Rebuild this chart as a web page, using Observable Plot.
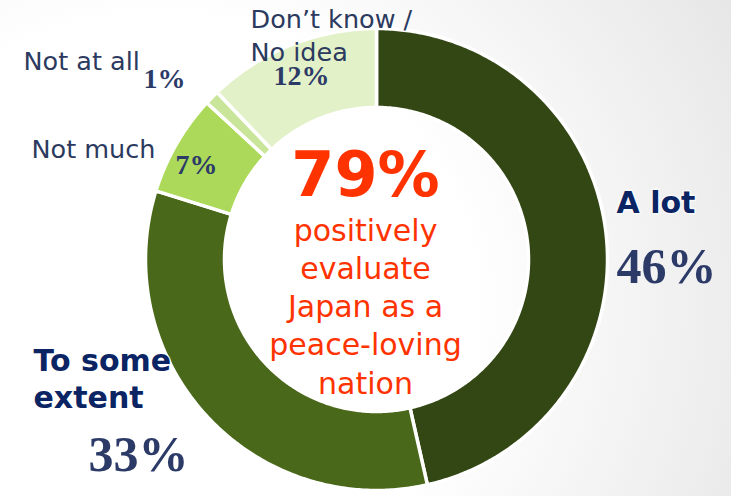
<!DOCTYPE html>
<html><head><meta charset="utf-8">
<script src="https://cdn.jsdelivr.net/npm/d3@7"></script>
<script src="https://cdn.jsdelivr.net/npm/@observablehq/plot@0.6"></script>
<style>
html,body{margin:0;padding:0;width:731px;height:496px;overflow:hidden;}
body{background: radial-gradient(ellipse 95% 130% at 22% 62%, #ffffff 45%, #e4e4e4 100%);}
#chart svg{display:block;background:transparent;}
</style></head><body><div id="chart"></div>
<script>
// ---- data ----
const categories = ["A lot", "To some extent", "Not much", "Not at all", "Don’t know / No idea"];
const values = [46, 33, 7, 1, 12];
const colors = ["#334714", "#4a6819", "#acd95a", "#c9e59a", "#e3f1c9"];
const percentLabels = ["46%", "33%", "7%", "1%", "12%"];
const headline = "79%";
const headlineText = "positively\nevaluate\nJapan as a\npeace-loving\nnation";

// ---- layout ----
const W = 731, H = 496, CX = 376, CY = 259, R = 231, INNER = 152 / 231;
const X = px => (px - CX) / R;
const Y = py => (CY - py) / R;

// ---- donut geometry from the values ----
const arcs = d3.pie().sort(null).value(d => d)(values);
const points = [];
arcs.forEach((a, i) => {
  const n = Math.max(6, Math.ceil((a.endAngle - a.startAngle) / 0.01));
  for (let k = 0; k <= n; k++) {
    const t = a.startAngle + (a.endAngle - a.startAngle) * k / n;
    points.push({cat: categories[i], x: Math.sin(t), y: Math.cos(t)});
  }
  for (let k = n; k >= 0; k--) {
    const t = a.startAngle + (a.endAngle - a.startAngle) * k / n;
    points.push({cat: categories[i], x: INNER * Math.sin(t), y: INNER * Math.cos(t)});
  }
});

// label placement (pixel anchors -> chart units)
const catLabelPos = [
  {text: "A lot", px: 616, py: 212, bold: true, size: 30},
  {text: "To some\nextent", px: 33, py: 407, bold: true, size: 30, lh: 1.233},
  {text: "Not much", px: 31, py: 157, bold: false, size: 25.5},
  {text: "Not at all", px: 23, py: 69, bold: false, size: 25.5},
  {text: "Don’t know /\nNo idea", px: 250, py: 60, bold: false, size: 25.5, lh: 1.27}
];
const pctPos = [
  {px: 616, py: 282, size: 50},
  {px: 88, py: 470, size: 50},
  {px: 175, py: 173, size: 28},
  {px: 143, py: 87, size: 28},
  {px: 273, py: 84, size: 28}
];

const marks = [
  Plot.line(points, {x: "x", y: "y", z: "cat", fill: "cat", stroke: "white", strokeWidth: 3.5, curve: "linear-closed"})
];
catLabelPos.forEach((d, i) => {
  marks.push(Plot.text([d], {
    x: v => X(v.px), y: v => Y(v.py), text: "text",
    textAnchor: "start", lineAnchor: "bottom", lineHeight: d.lh || 1,
    fontFamily: "'DejaVu Sans', Verdana, sans-serif", fontSize: d.size,
    fontWeight: d.bold ? "bold" : "normal",
    fill: d.bold ? "#0b2463" : "#2b3a5e",
    stroke: d.bold ? "white" : "none", strokeWidth: 3, strokeOpacity: 0.6
  }));
});
pctPos.forEach((d, i) => {
  marks.push(Plot.text([percentLabels[i]], {
    x: () => X(d.px), y: () => Y(d.py), text: v => v,
    textAnchor: "start", lineAnchor: "bottom",
    fontFamily: "'Liberation Serif', 'Times New Roman', serif", fontSize: d.size,
    fontWeight: "bold", fill: "#2b3a67"
  }));
});
marks.push(Plot.text([headline], {
  x: () => X(365), y: () => Y(195), text: v => v,
  textAnchor: "middle", lineAnchor: "bottom",
  fontFamily: "'DejaVu Sans', Verdana, sans-serif", fontSize: 62, fontWeight: "bold", fill: "#ff3300"
}));
marks.push(Plot.text([headlineText], {
  x: () => X(365), y: () => Y(393), text: v => v,
  textAnchor: "middle", lineAnchor: "bottom", lineHeight: 1.275,
  fontFamily: "'DejaVu Sans', Verdana, sans-serif", fontSize: 30, fill: "#ff3300"
}));

const chart = Plot.plot({
  width: W, height: H, margin: 0,
  x: {domain: [X(0), X(W)], axis: null},
  y: {domain: [Y(H), Y(0)], axis: null},
  color: {domain: categories, range: colors},
  style: {background: "transparent", overflow: "visible"},
  marks
});
document.getElementById("chart").appendChild(chart);
</script></body></html>
